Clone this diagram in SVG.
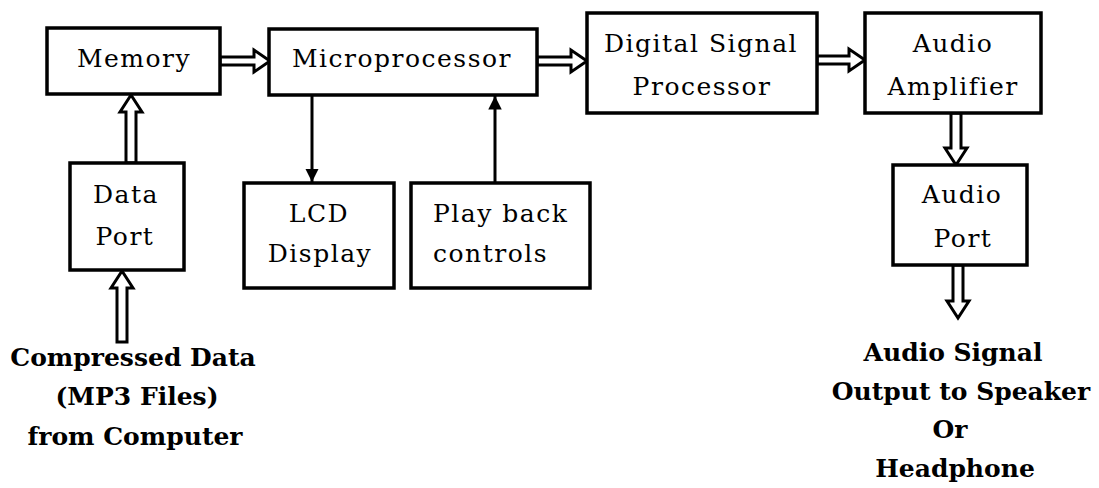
<svg xmlns="http://www.w3.org/2000/svg" width="1099" height="488" viewBox="0 0 1099 488">
<style>
.box{fill:#fff;stroke:#000;stroke-width:3.5}
.lbl{font-family:"DejaVu Serif","Liberation Serif",serif;font-size:25px;letter-spacing:1.5px;fill:#000;text-anchor:middle}
.big{font-family:"DejaVu Serif","Liberation Serif",serif;font-size:25px;font-weight:bold;fill:#000;text-anchor:middle}
.dbl{fill:#fff;stroke:#000;stroke-width:3;stroke-linejoin:miter}
.sgl{stroke:#000;stroke-width:3;fill:none}
</style>
<defs>
<marker id="ah" viewBox="0 0 10 10" refX="10" refY="5" markerWidth="4.5" markerHeight="4.5" orient="auto" markerUnits="strokeWidth">
<path d="M0,0 L10,5 L0,10 z" fill="#000"/>
</marker>
</defs>
<rect width="1099" height="488" fill="#fff"/>
<g id="connectors">
<polygon class="dbl" points="220,57 254,57 254,50 270,61 254,72 254,65 220,65"/>
<polygon class="dbl" points="537,57 571,57 571,50 587,61 571,72 571,65 537,65"/>
<polygon class="dbl" points="817,56 849,56 849,49 865,60 849,71 849,64 817,64"/>
<polygon class="dbl" points="126,163 126,112 120,112 131,95 142,112 136,112 136,163"/>
<polygon class="dbl" points="117,342 117,288 111,288 122,271 133,288 127,288 127,342"/>
<polygon class="dbl" points="951,113 951,148 945,148 956,165 967,148 961,148 961,113"/>
<polygon class="dbl" points="953,265 953,301 947,301 958,318 969,301 963,301 963,265"/>
<line class="sgl" x1="312" y1="95" x2="312" y2="182" marker-end="url(#ah)"/>
<line class="sgl" x1="495" y1="183" x2="495" y2="96" marker-end="url(#ah)"/>
</g>
<g id="memory">
<rect class="box" x="47" y="28" width="173" height="66"/>
<text class="lbl" x="134" y="67">Memory</text>
</g>
<g id="microprocessor">
<rect class="box" x="269" y="29" width="268" height="66"/>
<text class="lbl" x="402" y="67">Microprocessor</text>
</g>
<g id="dsp">
<rect class="box" x="587" y="13" width="230" height="100"/>
<text class="lbl" x="701" y="52">Digital Signal</text>
<text class="lbl" x="702" y="95">Processor</text>
</g>
<g id="amplifier">
<rect class="box" x="865" y="13" width="176" height="100"/>
<text class="lbl" x="953" y="52">Audio</text>
<text class="lbl" x="953" y="95">Amplifier</text>
</g>
<g id="audioport">
<rect class="box" x="893" y="165" width="134" height="100"/>
<text class="lbl" x="962" y="203">Audio</text>
<text class="lbl" x="963" y="247">Port</text>
</g>
<g id="dataport">
<rect class="box" x="70" y="163" width="114" height="107"/>
<text class="lbl" x="126" y="203">Data</text>
<text class="lbl" x="125" y="245">Port</text>
</g>
<g id="lcd">
<rect class="box" x="244" y="183" width="150" height="105"/>
<text class="lbl" x="319" y="222">LCD</text>
<text class="lbl" x="320" y="262">Display</text>
</g>
<g id="playback">
<rect class="box" x="411" y="183" width="179" height="105"/>
<text class="lbl" x="433" y="222" style="text-anchor:start">Play back</text>
<text class="lbl" x="433" y="262" style="text-anchor:start">controls</text>
</g>
<g id="source">
<text class="big" x="133" y="366">Compressed Data</text>
<text class="big" x="137" y="405">(MP3 Files)</text>
<text class="big" x="135" y="445">from Computer</text>
</g>
<g id="output">
<text class="big" x="953" y="361">Audio Signal</text>
<text class="big" x="961" y="400">Output to Speaker</text>
<text class="big" x="950" y="438">Or</text>
<text class="big" x="955" y="477">Headphone</text>
</g>
</svg>
